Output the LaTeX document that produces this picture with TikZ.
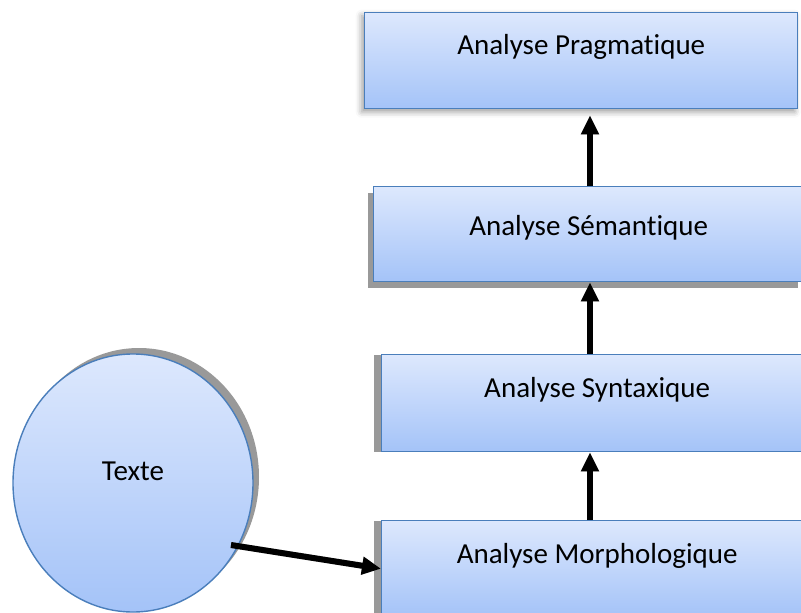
\documentclass[tikz,border=0pt]{standalone}
\usepackage{fontspec}
\setmainfont{Carlito}[RawFeature={-liga;-dlig;-clig}]
\usetikzlibrary{shapes.geometric,shadows,shadows.blur,arrows.meta}
\definecolor{boxtop}{HTML}{DDE8FD}
\definecolor{boxbottom}{HTML}{A4C3F8}
\definecolor{boxline}{HTML}{4A7EBB}
\definecolor{shadowgray}{HTML}{999999}
\begin{document}
\begin{tikzpicture}[x=1pt,y=-1pt,
  font=\fontsize{29}{34}\selectfont,
  fillgrad/.style={draw=boxline, line width=1.4pt, top color=boxtop, bottom color=boxbottom},
  stagebox/.style={fillgrad, inner sep=0pt, anchor=north west, minimum width=431pt},
  sideshadow/.style={general shadow={fill=shadowgray, shadow xshift=#1, shadow yshift=0pt}},
  flow/.style={line width=6pt, -{Triangle[length=19pt,width=17pt]}},
  flowshadow/.style={line width=6pt, draw=shadowgray, opacity=0.6, -{Triangle[length=19pt,width=17pt]}}
]
\useasboundingbox (0,0) rectangle (801,613);
\clip (0,0) rectangle (801,613);

% processing stages
\node[stagebox, minimum width=433pt, text height=42pt, text depth=54pt,
      blur shadow={shadow xshift=-3pt, shadow yshift=-3pt, shadow blur radius=6pt, shadow opacity=40}]
  (prag) at (364,12) {Analyse Pragmatique};
\node[stagebox, minimum width=430pt, text height=49pt, text depth=46pt,
      general shadow={fill=shadowgray, shadow xshift=-6pt, shadow yshift=-6pt}]
  (sem) at (373,186) {Analyse Sémantique};
\node[stagebox, text height=43pt, text depth=54pt, sideshadow=-8pt]
  (syn) at (381,354) {Analyse Syntaxique};
\node[stagebox, text height=43pt, text depth=53pt, sideshadow=-8pt]
  (morph) at (381,520) {Analyse Morphologique};

% input text
\node[ellipse, fillgrad, inner sep=0pt, minimum width=240pt, minimum height=258pt,
      text height=14pt, text depth=20pt,
      general shadow={fill=shadowgray, shadow xshift=6pt, shadow yshift=6pt}]
  (texte) at (133,483) {Texte};

% arrows between stages
\coordinate (ax) at (590,0);
\coordinate (tstart) at (231,545);
\begin{scope}[shift={(1,3)}]
  \draw[flowshadow, shorten >=6pt] (sem.north -| ax) -- (prag.south -| ax);
  \draw[flowshadow] (syn.north -| ax) -- (sem.south -| ax);
  \draw[flowshadow] (morph.north -| ax) -- (syn.south -| ax);
  \draw[flowshadow] (tstart) -- (morph.west);
\end{scope}
\draw[flow, shorten >=6pt] (sem.north -| ax) -- (prag.south -| ax);
\draw[flow] (syn.north -| ax) -- (sem.south -| ax);
\draw[flow] (morph.north -| ax) -- (syn.south -| ax);
\draw[flow] (tstart) -- (morph.west);
\end{tikzpicture}
\end{document}
